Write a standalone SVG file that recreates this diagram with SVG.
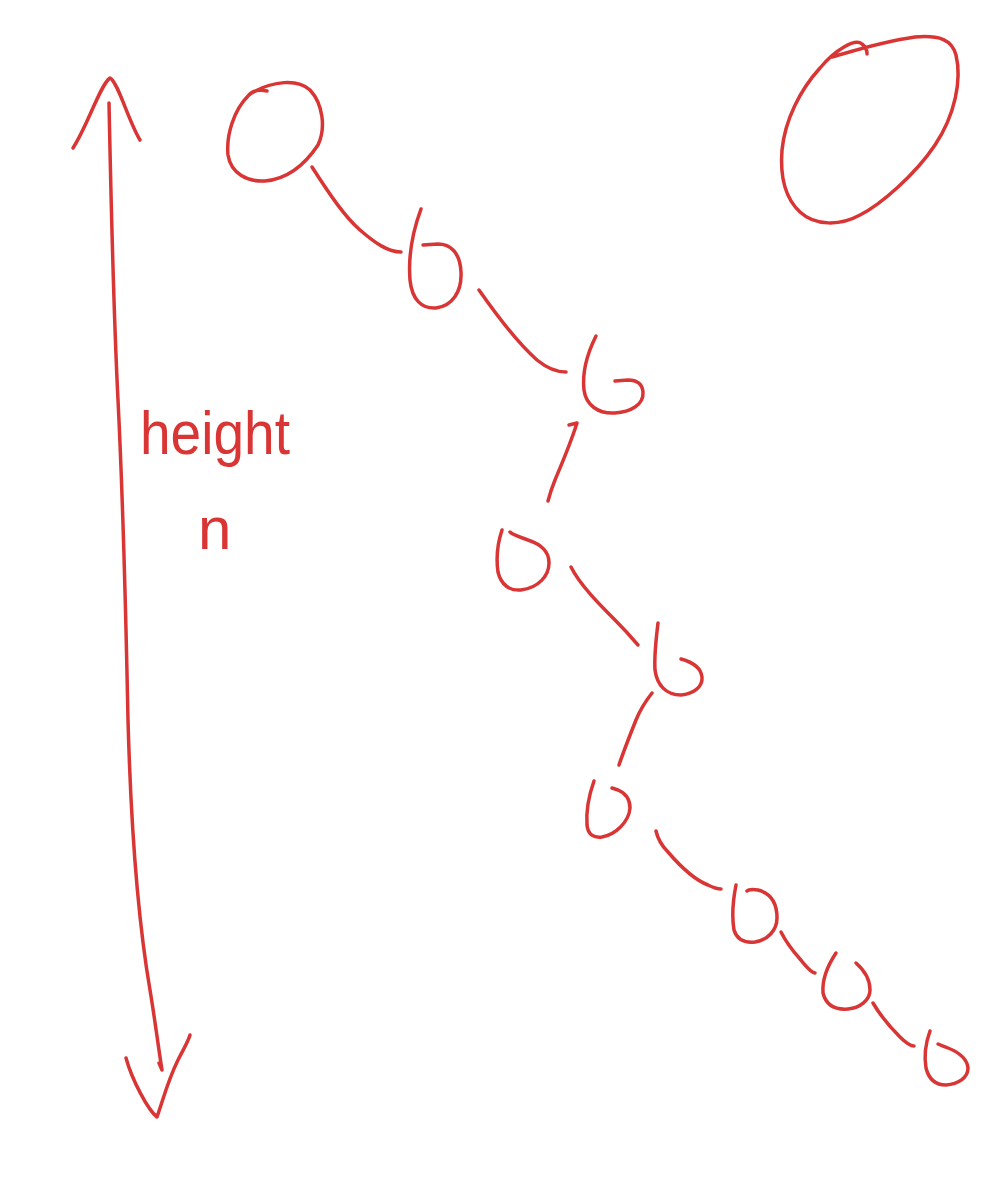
<svg xmlns="http://www.w3.org/2000/svg" width="998" height="1200" viewBox="0 0 998 1200">
<style>
  .s { fill: none; stroke: #d93535; stroke-width: 3.5; stroke-linecap: round; stroke-linejoin: round; }
  .t { fill: #d93535; font-family: "Liberation Sans", Arial, sans-serif; }
</style>
<rect width="998" height="1200" fill="#ffffff"/>
<g id="height-arrow">
  <path class="s" d="M73,148 C88,125 100,85 110,78 C118,82 128,120 140,140"/>
  <path class="s" d="M109,103 C111,200 113,300 118,400 C124,520 126,620 128,720 C131,830 138,920 150,990 C155,1020 158,1045 162,1070 L159,1063"/>
  <path class="s" d="M126,1058 C132,1080 148,1110 157,1117 C163,1100 168,1080 178,1060 C184,1048 188,1042 190,1035"/>
</g>
<g id="label">
  <text class="t" x="140" y="454" font-size="62" textLength="150" lengthAdjust="spacingAndGlyphs">height</text>
  <text class="t" x="198" y="549" font-size="60">n</text>
</g>
<g id="connectors">
  <path class="s" d="M312,167 C330,195 345,217 360,230 C375,243 388,252 401,252"/>
  <path class="s" d="M479,290 C500,320 520,345 537,360 C548,369 557,372 566,372"/>
  <path class="s" d="M569,425 L577,423 C570,445 560,468 555,480 C551,490 549,497 548,501"/>
  <path class="s" d="M571,567 C580,585 600,605 615,620 C625,630 632,638 638,645"/>
  <path class="s" d="M652,693 C645,702 640,710 636,720 C630,735 624,750 619,765"/>
  <path class="s" d="M656,831 C658,840 662,846 668,852 C680,866 695,880 708,885 C714,888 718,889 721,889"/>
  <path class="s" d="M781,932 C786,942 792,950 800,959 C806,966 810,972 815,973"/>
  <path class="s" d="M873,1003 C880,1015 890,1027 900,1037 C906,1043 910,1046 914,1046"/>
</g>
<g id="node-root">
  <path class="s" d="M267,91 C258,89 252,91 248,96 C234,110 226,135 228,155 C231,174 248,182 265,181 C288,179 306,163 318,145 C326,128 323,104 310,90 C298,79 273,80 250,94"/>
</g>
<g id="node-2">
  <path class="s" d="M421,209 C414,228 408,255 410,280 C412,300 422,309 436,308 C452,306 462,292 461,272 C460,252 450,244 438,244 L423,245"/>
</g>
<g id="node-3">
  <path class="s" d="M596,336 C588,352 582,372 584,390 C586,405 598,414 615,413 C630,412 644,405 643,392 C642,382 635,380 628,380 L615,381"/>
</g>
<g id="node-4">
  <path class="s" d="M502,530 C498,542 496,558 498,572 C501,585 510,591 521,590 C538,588 549,576 549,563 C549,550 540,544 528,540 C520,537 513,535 510,532"/>
</g>
<g id="node-5">
  <path class="s" d="M658,623 C656,640 654,655 655,670 C657,685 666,695 681,695 C693,694 703,687 702,677 C701,668 692,662 681,659"/>
</g>
<g id="node-6">
  <path class="s" d="M594,781 C589,795 586,810 587,825 C588,835 594,838 602,837 C615,835 629,822 630,808 C630,798 625,793 618,790 L612,788"/>
</g>
<g id="node-7">
  <path class="s" d="M736,885 C733,900 732,918 734,930 C737,940 745,943 755,942 C768,940 777,930 777,918 C777,902 770,893 758,890 C752,889 748,890 747,891"/>
</g>
<g id="node-8">
  <path class="s" d="M836,953 C828,965 822,980 823,993 C826,1005 835,1010 848,1009 C860,1008 870,1000 870,990 C870,980 864,970 856,963"/>
</g>
<g id="node-9">
  <path class="s" d="M930,1031 C926,1042 924,1056 926,1068 C929,1080 936,1085 946,1085 C958,1084 968,1078 968,1068 C967,1058 958,1052 948,1048 C943,1046 940,1045 938,1044"/>
</g>
<g id="node-lone">
  <path class="s" d="M832,57 C850,52 880,42 915,37 C940,35 952,40 956,55 C962,80 955,115 935,145 C915,175 880,205 860,215 C840,226 815,226 800,212 C785,198 780,175 782,150 C785,120 800,90 820,68 C835,50 855,38 862,44 C866,47 867,50 867,54"/>
</g>
</svg>
